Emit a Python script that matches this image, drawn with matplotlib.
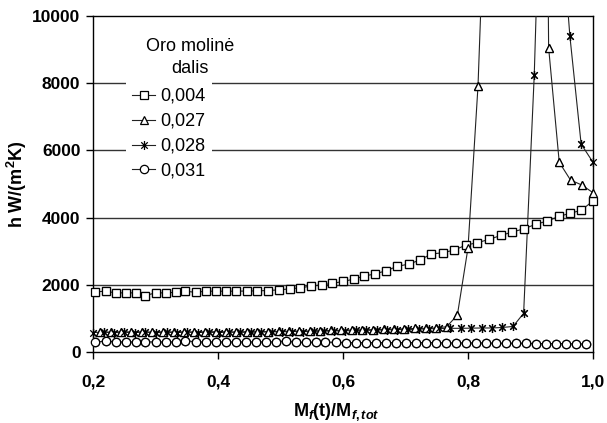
import matplotlib
matplotlib.use("Agg")
import matplotlib.pyplot as plt
from matplotlib.path import Path
from matplotlib.ticker import FixedLocator, FuncFormatter

plt.rcParams['font.family'] = ['Liberation Sans', 'DejaVu Sans']
plt.rcParams['mathtext.fontset'] = 'custom'
plt.rcParams['mathtext.rm'] = 'Liberation Sans:bold'
plt.rcParams['mathtext.it'] = 'Liberation Sans:bold:italic'
plt.rcParams['mathtext.bf'] = 'Liberation Sans:bold'

# ---------------- data ----------------
labels = ["0,004", "0,027", "0,028", "0,031"]
legend_title = "Oro molinė\ndalis"

x_004 = [0.204, 0.220, 0.236, 0.252, 0.268, 0.284, 0.300, 0.316, 0.332, 0.348, 0.364, 0.380,
         0.396, 0.412, 0.428, 0.446, 0.463, 0.480, 0.498, 0.515, 0.531, 0.549, 0.566, 0.583,
         0.600, 0.618, 0.634, 0.651, 0.669, 0.687, 0.706, 0.723, 0.741, 0.760, 0.778, 0.797,
         0.815, 0.834, 0.853, 0.871, 0.890, 0.908, 0.927, 0.946, 0.963, 0.981, 1.000]
y_004 = [1790, 1810, 1760, 1760, 1760, 1680, 1760, 1760, 1775, 1810, 1775, 1810,
         1810, 1810, 1810, 1815, 1820, 1830, 1850, 1880, 1910, 1960, 2000, 2040,
         2100, 2170, 2262, 2321, 2420, 2550, 2619, 2738, 2916, 2955, 3035, 3184,
         3253, 3353, 3472, 3571, 3670, 3799, 3898, 4038, 4127, 4217, 4494]

x_027 = [0.211, 0.228, 0.245, 0.261, 0.278, 0.295, 0.312, 0.329, 0.345, 0.362, 0.379, 0.396,
         0.413, 0.429, 0.446, 0.463, 0.480, 0.497, 0.513, 0.530, 0.547, 0.564, 0.581, 0.597,
         0.614, 0.631, 0.648, 0.665, 0.681, 0.698, 0.715, 0.732, 0.749, 0.766, 0.783, 0.800,
         0.816, 0.833, 0.850, 0.867, 0.884, 0.900, 0.915, 0.929, 0.946, 0.964, 0.982, 1.000]
y_027 = [600, 590, 605, 595, 600, 590, 605, 595, 600, 595, 600, 605,
         600, 595, 605, 600, 610, 615, 620, 625, 625, 635, 640, 645,
         655, 660, 665, 675, 680, 690, 700, 705, 715, 754, 1100, 3100,
         7916, 16600, 30000, 45000, 55000, 50000, 40000, 9057, 5645, 5119, 4970, 4741]

x_028 = [0.200, 0.217, 0.234, 0.250, 0.267, 0.284, 0.301, 0.318, 0.334, 0.351, 0.368, 0.385,
         0.402, 0.418, 0.435, 0.452, 0.469, 0.486, 0.502, 0.519, 0.536, 0.553, 0.570, 0.586,
         0.603, 0.620, 0.637, 0.654, 0.670, 0.687, 0.704, 0.721, 0.738, 0.754, 0.771, 0.788,
         0.805, 0.822, 0.838, 0.855, 0.872, 0.889, 0.906, 0.925, 0.944, 0.963, 0.981, 1.000]
y_028 = [580, 590, 575, 585, 580, 590, 575, 585, 580, 590, 580, 585,
         580, 590, 585, 590, 595, 600, 600, 610, 605, 615, 620, 625,
         630, 640, 645, 650, 660, 665, 670, 680, 690, 700, 705, 705,
         710, 715, 715, 730, 760, 1151, 8243, 20000, 14000, 9404, 6190, 5645]

x_031 = [0.204, 0.220, 0.236, 0.252, 0.268, 0.284, 0.300, 0.316, 0.332, 0.348, 0.364, 0.380,
         0.396, 0.412, 0.428, 0.444, 0.460, 0.476, 0.492, 0.508, 0.524, 0.540, 0.556, 0.572,
         0.588, 0.604, 0.620, 0.636, 0.652, 0.668, 0.684, 0.700, 0.716, 0.732, 0.748, 0.764,
         0.780, 0.796, 0.812, 0.828, 0.844, 0.860, 0.876, 0.892, 0.908, 0.924, 0.940, 0.956,
         0.972, 0.988]
y_031 = [290, 330, 300, 300, 300, 300, 300, 300, 300, 340, 300, 300,
         300, 300, 300, 300, 300, 300, 300, 330, 290, 290, 290, 290,
         290, 280, 280, 280, 280, 280, 280, 280, 280, 280, 280, 270,
         270, 270, 270, 270, 260, 260, 260, 260, 250, 250, 250, 250,
         240, 240]

x_ticks = [0.2, 0.4, 0.6, 0.8, 1.0]
y_ticks = [0, 2000, 4000, 6000, 8000, 10000]

# ---------------- style ----------------
star = Path([(0, -1), (0, 1), (-0.72, -0.72), (0.72, 0.72), (-0.72, 0.72), (0.72, -0.72)],
            [Path.MOVETO, Path.LINETO, Path.MOVETO, Path.LINETO, Path.MOVETO, Path.LINETO])

series = [
    (x_004, y_004, 's', 5.6),
    (x_027, y_027, '^', 6.0),
    (x_028, y_028, star, 6.5),
    (x_031, y_031, 'o', 6.0),
]

W, H = 607, 423
fig = plt.figure(figsize=(W / 100, H / 100), dpi=100)
ax = fig.add_axes([93 / W, 1 - 352 / H, 500 / W, 336 / H])

ymax = 10000
for (xs, ys, mk, ms), lab in zip(series, labels):
    ax.plot(xs, ys, color='#222222', lw=0.8, marker=mk, ms=ms, mfc='white',
            mec='black', mew=0.9, label=lab, zorder=3)
    vx = [a for a, b in zip(xs, ys) if b <= ymax]
    vy = [b for b in ys if b <= ymax]
    ax.plot(vx, vy, ls='none', marker=mk, ms=ms, mfc='white', mec='black',
            mew=0.9, clip_on=False, zorder=4)

ax.set_xlim(0.2, 1.0)
ax.set_ylim(0, ymax)
ax.xaxis.set_major_locator(FixedLocator(x_ticks))
ax.yaxis.set_major_locator(FixedLocator(y_ticks))
ax.xaxis.set_major_formatter(FuncFormatter(lambda v, p: f"{v:.1f}".replace('.', ',')))
ax.yaxis.set_major_formatter(FuncFormatter(lambda v, p: f"{int(v)}"))
for y in y_ticks[1:-1]:
    ax.axhline(y, color='#333333', lw=1.0, zorder=1)

ax.tick_params(axis='both', direction='out', length=5, width=1, colors='black',
               labelsize=12.5)
ax.tick_params(axis='x', pad=11)
ax.tick_params(axis='y', pad=4)
for t in ax.get_xticklabels() + ax.get_yticklabels():
    t.set_fontweight('bold')
for s in ax.spines.values():
    s.set_linewidth(1.0)
    s.set_color('black')

ax.set_xlabel(r"M$_{f}$(t)/M$_{f,tot}$", fontsize=13, fontweight='bold')
ax.set_ylabel(r"h W/(m$^{2}$K)", fontsize=13, fontweight='bold')
ax.xaxis.set_label_coords((336 - 93) / 500, -0.145)
ax.yaxis.set_label_coords((29 - 93) / 500, 0.5)

h, l = ax.get_legend_handles_labels()
leg = fig.legend(h, l, loc='upper left', bbox_to_anchor=(126 / W, 1 - 82 / H),
                 frameon=True, fontsize=13, handlelength=1.28, handletextpad=0.3,
                 labelspacing=0.44, borderpad=0.33, borderaxespad=0, fancybox=False)
leg.get_frame().set_edgecolor('none')
leg.get_frame().set_facecolor('white')
leg.get_frame().set_alpha(1)
leg.set_zorder(5)

fig.text(190 / W, 1 - 57.5 / H, legend_title, ha='center', va='center',
         multialignment='center', fontsize=13, linespacing=1.35)

fig.savefig("out.png", dpi=100)
